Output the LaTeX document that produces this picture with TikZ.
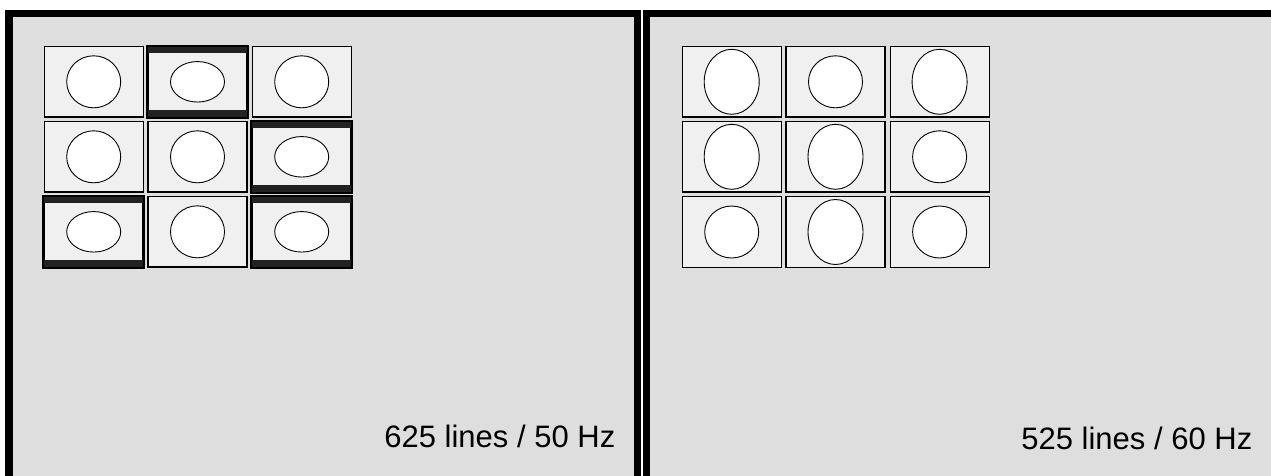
\documentclass[tikz,border=0pt]{standalone}
\usepackage{fontspec}
\setmainfont{Liberation Sans}
\usetikzlibrary{shapes.geometric}
\definecolor{panelgray}{RGB}{222,222,222}
\definecolor{tilegray}{RGB}{240,240,240}
\definecolor{barblack}{RGB}{34,34,34}
\tikzset{
  panel/.style={draw=black, line width=7.5pt, fill=panelgray},
  tile/.style={draw=black, line width=1.2pt, fill=tilegray, rectangle, inner sep=0pt,
    minimum width=99pt, minimum height=70.5pt},
  lbtile/.style={tile, line width=2pt},
  disc/.style={draw=black, line width=0.9pt, fill=white, ellipse, inner sep=0pt},
  roundpic/.style={disc, minimum width=54pt, minimum height=52pt},
  widepic/.style={disc, minimum width=54pt, minimum height=40.5pt},
  tallpic/.style={disc, minimum width=55pt, minimum height=65pt},
  bar/.style={fill=barblack},
  caption/.style={font=\fontsize{31pt}{36pt}\selectfont, inner sep=0pt}
}
\newcommand{\lbbars}[1]{%
  \fill[bar] (#1.north west) rectangle ([yshift=-7.5pt]#1.north east);
  \fill[bar] (#1.south west) rectangle ([yshift=8.5pt]#1.south east);
  \draw[line width=2pt] (#1.north west) rectangle (#1.south east);}
\begin{document}
\begin{tikzpicture}[x=1pt,y=-1pt]
\useasboundingbox (0,0) rectangle (1271,475);
\fill[white] (0,0) rectangle (1271,475);
\begin{scope}
\clip (0,0) rectangle (1271,475);
\draw[panel] (8.75,13.25) rectangle (637.25,490);
\draw[panel] (646.5,13.25) rectangle (1290,490);
\end{scope}
% left panel: 625 lines / 50 Hz
\node[tile]   (L11) at (93.7,81.8)  {};
\node[lbtile] (L12) at (197.5,81.8) {};
\node[tile]   (L13) at (301.7,81.8) {};
\node[tile]   (L21) at (93.7,156.8)  {};
\node[tile]   (L22) at (197.5,156.8) {};
\node[lbtile] (L23) at (301.7,156.8) {};
\node[lbtile] (L31) at (93.7,231.8)  {};
\node[tile]   (L32) at (197.5,231.8) {};
\node[lbtile] (L33) at (301.7,231.8) {};
\lbbars{L12}\lbbars{L23}\lbbars{L31}\lbbars{L33}
\node[roundpic] (l11) at (L11.center) {};
\node[widepic]  (l12) at (L12.center) {};
\node[roundpic] (l13) at (L13.center) {};
\node[roundpic] (l21) at (L21.center) {};
\node[roundpic] (l22) at (L22.center) {};
\node[widepic]  (l23) at (L23.center) {};
\node[widepic]  (l31) at (L31.center) {};
\node[roundpic] (l32) at (L32.center) {};
\node[widepic]  (l33) at (L33.center) {};
\node[caption, anchor=base east] (capL) at (615.5,447.3) {625 lines / 50 Hz};
% right panel: 525 lines / 60 Hz
\node[tile] (R11) at (731.7,81.8) {};
\node[tile] (R12) at (835.5,81.8) {};
\node[tile] (R13) at (939.6,81.8) {};
\node[tile] (R21) at (731.7,156.8) {};
\node[tile] (R22) at (835.5,156.8) {};
\node[tile] (R23) at (939.6,156.8) {};
\node[tile] (R31) at (731.7,232) {};
\node[tile] (R32) at (835.5,232) {};
\node[tile] (R33) at (939.6,232) {};
\node[tallpic]  (r11) at (R11.center) {};
\node[roundpic] (r12) at (R12.center) {};
\node[tallpic]  (r13) at (R13.center) {};
\node[tallpic]  (r21) at (R21.center) {};
\node[tallpic]  (r22) at (R22.center) {};
\node[roundpic] (r23) at (R23.center) {};
\node[roundpic] (r31) at (R31.center) {};
\node[tallpic]  (r32) at (R32.center) {};
\node[roundpic] (r33) at (R33.center) {};
\node[caption, anchor=base east] (capR) at (1252.5,449.3) {525 lines / 60 Hz};
\end{tikzpicture}
\end{document}
